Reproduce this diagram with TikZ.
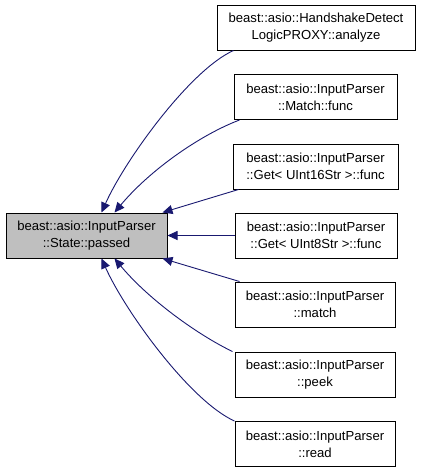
\documentclass[tikz,border=0pt]{standalone}
\usepackage{fontspec}
\setmainfont{Liberation Sans}
\usetikzlibrary{calc,arrows.meta}
\definecolor{edgeblue}{HTML}{191970}
\definecolor{nodegray}{HTML}{BFBFBF}
\begin{document}
\begin{tikzpicture}[x=1pt,y=-1pt,
  box/.style={draw=black,line width=1pt,fill=white,inner sep=0pt,minimum height=45pt,align=center,
    font=\fontsize{13.1}{17}\selectfont},
  edge/.style={draw=edgeblue,line width=0.9pt,-{Triangle[length=10pt,width=9pt]}}]
\useasboundingbox (0,0) rectangle (421,472);
\node[box,fill=nodegray,minimum width=161pt] (p) at (86.5,235.5) {beast::asio::InputParser\\::State::passed};
\node[box,minimum width=198pt] (n1) at (316,27.5) {beast::asio::HandshakeDetect\\LogicPROXY::analyze};
\node[box,minimum width=163pt] (n2) at (315.5,97) {beast::asio::InputParser\\::Match::func};
\node[box,minimum width=165pt] (n3) at (315.5,166.5) {beast::asio::InputParser\\::Get< UInt16Str >::func};
\node[box,minimum width=162pt] (n4) at (316,235.5) {beast::asio::InputParser\\::Get< UInt8Str >::func};
\node[box,minimum width=160pt] (n5) at (315,304.5) {beast::asio::InputParser\\::match};
\node[box,minimum width=160pt] (n6) at (315,374.5) {beast::asio::InputParser\\::peek};
\node[box,minimum width=160pt] (n7) at (315,444) {beast::asio::InputParser\\::read};
\draw[edge] ($(n1.south west)+(17,0)$) .. controls (190,70) and (125,160) .. ($(p.north west)+(96,0)$);
\draw[edge] ($(n2.south west)+(6,0)$) .. controls (200,135) and (150,170) .. ($(p.north west)+(109,0)$);
\draw[edge] ($(n3.south west)+(6,0)$) -- ($(p.north west)+(157,0)$);
\draw[edge] (n4.west) -- (p.east);
\draw[edge] ($(n5.north west)+(5,0)$) -- ($(p.south west)+(157,0)$);
\draw[edge] ($(n6.north west)+(-2,0)$) .. controls (200,336) and (150,301) .. ($(p.south west)+(109,0)$);
\draw[edge] ($(n7.north west)+(0,0)$) .. controls (190,401) and (125,311) .. ($(p.south west)+(96,0)$);
\end{tikzpicture}
\end{document}
